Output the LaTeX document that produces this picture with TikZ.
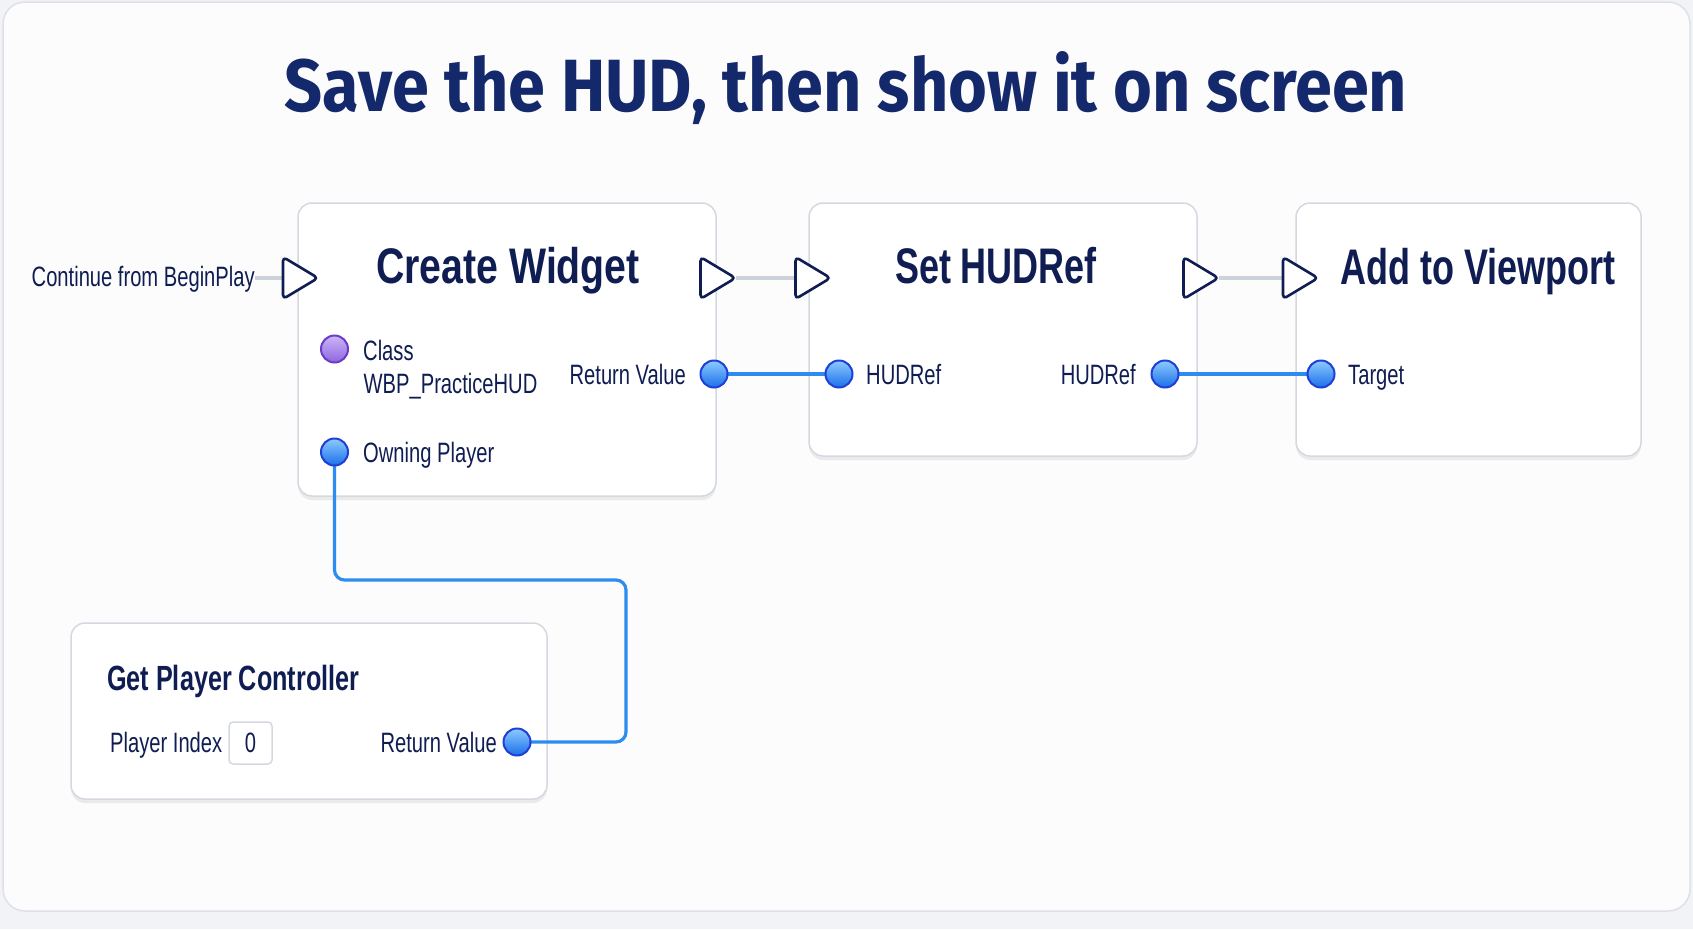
\documentclass[tikz,border=0pt]{standalone}
\usepackage{fontspec}
\setmainfont{Liberation Sans}
\newfontfamily\condfont[FakeStretch=0.72]{Liberation Sans}
\newfontfamily\widecondfont[FakeStretch=0.785]{Liberation Sans}
\newfontfamily\headfont[FakeStretch=0.9]{Fira Sans}
\usetikzlibrary{shadows}
\definecolor{navy}{HTML}{0F1D52}
\definecolor{titleblue}{HTML}{14296B}
\definecolor{boxline}{HTML}{D4D9E1}
\definecolor{execgray}{HTML}{CDD2DA}
\definecolor{wireblue}{HTML}{2D8CF0}
\definecolor{pinedge}{HTML}{1F3FD6}
\definecolor{pintop}{HTML}{8CCBFF}
\definecolor{pinbot}{HTML}{1C6FEA}
\definecolor{purpedge}{HTML}{6A3CC9}
\definecolor{purptop}{HTML}{CDB5F7}
\definecolor{purpbot}{HTML}{8D66E0}
\definecolor{bgcol}{HTML}{F1F3F6}
\definecolor{cardline}{HTML}{DDE1E8}
\definecolor{cardfill}{HTML}{FCFCFD}
\begin{document}
\begin{tikzpicture}[x=1pt,y=-1pt,
  nodebox/.style={draw=boxline, line width=1.5pt, fill=white, rounded corners=14pt, inner sep=0pt,
    drop shadow={shadow xshift=0pt, shadow yshift=-4pt, opacity=0.07, fill=black}},
  anchorpt/.style={minimum width=35pt, minimum height=42pt, inner sep=0pt, outer sep=0pt},
  exectri/.style={draw=navy, line width=2.6pt, fill=white, rounded corners=4pt, line join=round},
  execline/.style={draw=execgray, line width=3.5pt},
  wire/.style={draw=wireblue, line width=3.2pt},
  datapin/.style={circle, minimum size=27pt, inner sep=0pt, draw=pinedge, line width=2pt, top color=pintop, bottom color=pinbot},
  classpin/.style={circle, minimum size=27pt, inner sep=0pt, draw=purpedge, line width=2pt, top color=purptop, bottom color=purpbot},
  lbl/.style={font=\condfont\fontsize{28}{30}\selectfont, text=navy, inner sep=0pt},
  head/.style={font=\condfont\bfseries\fontsize{50}{54}\selectfont, text=navy, inner sep=0pt},
  subhead/.style={font=\condfont\bfseries\fontsize{35}{40}\selectfont, text=navy, inner sep=0pt},
  valbox/.style={draw=boxline, line width=1.5pt, fill=white, rounded corners=4pt, inner sep=0pt,
    minimum width=43pt, minimum height=42pt, font=\condfont\fontsize{28}{30}\selectfont, text=navy}
]
\useasboundingbox (0,0) rectangle (1693,929);
\fill[bgcol] (0,0) rectangle (1693,929);
\node[draw=cardline, line width=1.5pt, fill=cardfill, rounded corners=22pt, minimum width=1687pt, minimum height=909pt, inner sep=0pt] (card) at (846.5,456.5) {};

% title
\node[anchor=base, font=\headfont\bfseries\fontsize{74}{80}\selectfont, text=titleblue, inner sep=0pt] (title) at (846,111.7) {Save the HUD, then show it on screen};

% node boxes
\node[nodebox, minimum width=418pt, minimum height=293pt] (cw) at (507,349.5) {};
\node[nodebox, minimum width=388pt, minimum height=253pt] (sh) at (1003,329.5) {};
\node[nodebox, minimum width=345pt, minimum height=253pt] (av) at (1468.5,329.5) {};
\node[nodebox, minimum width=476pt, minimum height=176pt] (gpc) at (309,711) {};

% exec pin anchors
\node[anchorpt] (cwin) at (300.5,278) {};
\node[anchorpt] (cwout) at (718,278) {};
\node[anchorpt] (shin) at (813,278) {};
\node[anchorpt] (shout) at (1201,278) {};
\node[anchorpt] (avin) at (1300.5,278) {};

% texts
\node[lbl, anchor=base west] (cont) at (31.5,286) {Continue from BeginPlay};
\node[head, font=\widecondfont\bfseries\fontsize{50}{54}\selectfont, anchor=base] (cwtitle) at (508,283) {Create Widget};
\node[head, anchor=base] (shtitle) at (996,283) {Set HUDRef};
\node[head, anchor=base west] (avtitle) at (1340,284) {Add to Viewport};
\node[subhead, anchor=base west] (gpctitle) at (107,690) {Get Player Controller};

% exec lines
\draw[execline] (cont.east |- cwin.west) -- (cwin.west);
\draw[execline] (cwout.east) -- (shin.west);
\draw[execline] (shout.east) -- (avin.west);

% exec triangles
\foreach \t in {cwin,cwout,shin,shout,avin}
  \draw[exectri] (\t.north west) -- (\t.east) -- (\t.south west) -- cycle;

% data pins (positions)
\coordinate (pclass) at (334.5,349);
\coordinate (powning) at (334.5,452);
\coordinate (pcwret) at (714,374);
\coordinate (pshin) at (839,374);
\coordinate (pshout) at (1165,374);
\coordinate (ptarget) at (1321,374);
\coordinate (pgpcret) at (517,742);
\coordinate (bend) at (626,580);

% wires
\draw[wire] (pcwret) -- (pshin);
\draw[wire] (pshout) -- (ptarget);
\draw[wire, rounded corners=10pt] (powning) |- (bend) |- (pgpcret);

% pins
\node[classpin] (classpin) at (pclass) {};
\node[datapin] (owning) at (powning) {};
\node[datapin] (cwret) at (pcwret) {};
\node[datapin] (shinpin) at (pshin) {};
\node[datapin] (shoutpin) at (pshout) {};
\node[datapin] (target) at (ptarget) {};
\node[datapin] (gpcret) at (pgpcret) {};

% pin labels
\node[lbl, anchor=base west] (classlbl) at (363,360) {Class};
\node[lbl, anchor=base west] (classval) at (363.5,393) {WBP\_PracticeHUD};
\node[lbl, anchor=base east] (cwretlbl) at (686,384) {Return Value};
\node[lbl, anchor=base west] (owninglbl) at (363,462) {Owning Player};
\node[lbl, anchor=base west] (shinlbl) at (866,384) {HUDRef};
\node[lbl, anchor=base east] (shoutlbl) at (1136,384) {HUDRef};
\node[lbl, anchor=base west] (targetlbl) at (1348,384) {Target};
\node[lbl, anchor=base west] (idxlbl) at (110,752) {Player Index};
\node[valbox] (idx) at (250.5,743) {0};
\node[lbl, anchor=base east] (gpcretlbl) at (497,752) {Return Value};
\end{tikzpicture}
\end{document}
